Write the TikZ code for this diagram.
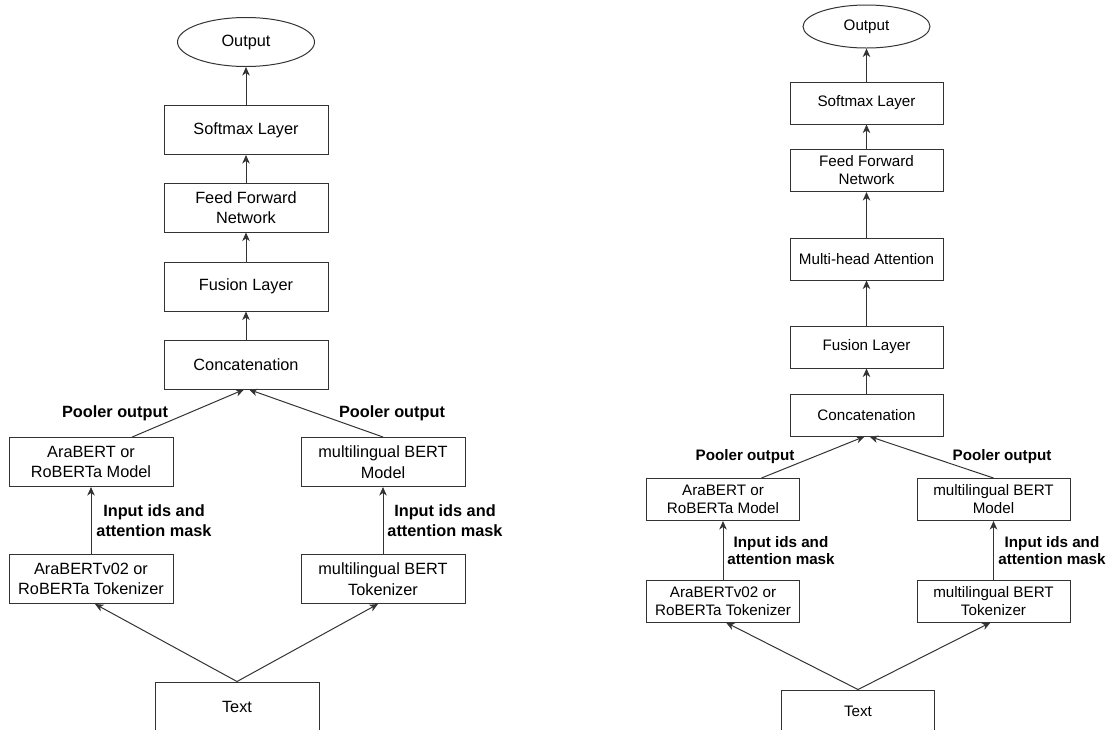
\documentclass[tikz,border=0pt]{standalone}
\usepackage{fontspec}
\setmainfont{Liberation Sans}
\usetikzlibrary{arrows.meta,shapes.geometric,calc}
\tikzset{
  lbox/.style={draw=black!80, line width=1pt, align=center, inner sep=0pt,
    minimum width=164pt, minimum height=49pt, font=\fontsize{16.3}{20.5}\selectfont},
  sbox/.style={draw=black!80, line width=1pt, align=center, inner sep=0pt,
    minimum width=153pt, minimum height=42pt, font=\fontsize{15.2}{18}\selectfont},
  lout/.style={ellipse, draw=black!80, line width=1pt, inner sep=0pt,
    minimum width=137pt, minimum height=49pt, font=\fontsize{16.3}{20.5}\selectfont},
  sout/.style={ellipse, draw=black!80, line width=1pt, inner sep=0pt,
    minimum width=127pt, minimum height=43pt, font=\fontsize{15.2}{18}\selectfont},
  llab/.style={align=center, inner sep=0pt, font=\bfseries\fontsize{16.3}{20}\selectfont},
  slab/.style={align=center, inner sep=0pt, font=\bfseries\fontsize{15.2}{17}\selectfont},
  flow/.style={draw=black!80, line width=1pt, -{Stealth[length=8.5pt,width=7.5pt,inset=2.5pt]}}
}
\begin{document}
\begin{tikzpicture}[x=1pt, y=-1pt]
  \useasboundingbox (0,0) rectangle (1110,729);
  % left model
  \node[lout] (outL) at (246,42) {Output};
  \node[lbox] (softL) at (246,130) {Softmax Layer};
  \node[lbox] (ffnL) at (246,207.5) {Feed Forward\\Network};
  \node[lbox] (fuseL) at (246,286.5) {Fusion Layer};
  \node[lbox] (catL) at (246,364.5) {Concatenation};
  \node[lbox] (araL) at (91,462) {AraBERT or\\RoBERTa Model};
  \node[lbox] (mbL) at (383,462) {multilingual BERT\\Model};
  \node[lbox] (aratokL) at (91,579) {AraBERTv02 or\\RoBERTa Tokenizer};
  \node[lbox] (mbtokL) at (383,579) {multilingual BERT\\Tokenizer};
  \node[lbox] (textL) at (237,706.5) {Text};
  \node[llab] (poolL1) at (115,413) {Pooler output};
  \node[llab] (poolL2) at (392,413) {Pooler output};
  \node[llab] (idsL1) at (154,521) {Input ids and\\attention mask};
  \node[llab] (idsL2) at (445,521) {Input ids and\\attention mask};
  \draw[flow] (softL) -- (outL);
  \draw[flow] (ffnL) -- (softL);
  \draw[flow] (fuseL) -- (ffnL);
  \draw[flow] (catL) -- (fuseL);
  \draw[flow] ($(araL.north west)!0.75!(araL.north east)$) -- ($(catL.south)+(-2,0)$);
  \draw[flow] (mbL.north) -- ($(catL.south)+(3,0)$);
  \draw[flow] (aratokL) -- (araL);
  \draw[flow] (mbtokL) -- (mbL);
  \draw[flow] (textL.north) -- ($(aratokL.south)+(4,0)$);
  \draw[flow] (textL.north) -- ($(mbtokL.south)+(-5,0)$);
  % right model
  \node[sout] (outR) at (866.5,26.5) {Output};
  \node[sbox] (softR) at (866.5,103) {Softmax Layer};
  \node[sbox] (ffnR) at (866.5,170.5) {Feed Forward\\Network};
  \node[sbox] (mhaR) at (866.5,259) {Multi-head Attention};
  \node[sbox] (fuseR) at (866.5,347) {Fusion Layer};
  \node[sbox] (catR) at (866.5,415) {Concatenation};
  \node[sbox] (araR) at (723,499.5) {AraBERT or\\RoBERTa Model};
  \node[sbox] (mbR) at (993.5,499.5) {multilingual BERT\\Model};
  \node[sbox] (aratokR) at (723,601) {AraBERTv02 or\\RoBERTa Tokenizer};
  \node[sbox] (mbtokR) at (993.5,601) {multilingual BERT\\Tokenizer};
  \node[sbox] (textR) at (858,711) {Text};
  \node[slab] (poolR1) at (745,457) {Pooler output};
  \node[slab] (poolR2) at (1002,457) {Pooler output};
  \node[slab] (idsR1) at (781,551) {Input ids and\\attention mask};
  \node[slab] (idsR2) at (1052,551) {Input ids and\\attention mask};
  \draw[flow] (softR) -- (outR);
  \draw[flow] (ffnR) -- (softR);
  \draw[flow] (mhaR) -- (ffnR);
  \draw[flow] (fuseR) -- (mhaR);
  \draw[flow] (catR) -- (fuseR);
  \draw[flow] ($(araR.north west)!0.75!(araR.north east)$) -- ($(catR.south)+(-2,0)$);
  \draw[flow] (mbR.north) -- ($(catR.south)+(3,0)$);
  \draw[flow] (aratokR) -- (araR);
  \draw[flow] (mbtokR) -- (mbR);
  \draw[flow] (textR.north) -- ($(aratokR.south)+(3,0)$);
  \draw[flow] (textR.north) -- ($(mbtokR.south)+(-3,0)$);
\end{tikzpicture}
\end{document}
